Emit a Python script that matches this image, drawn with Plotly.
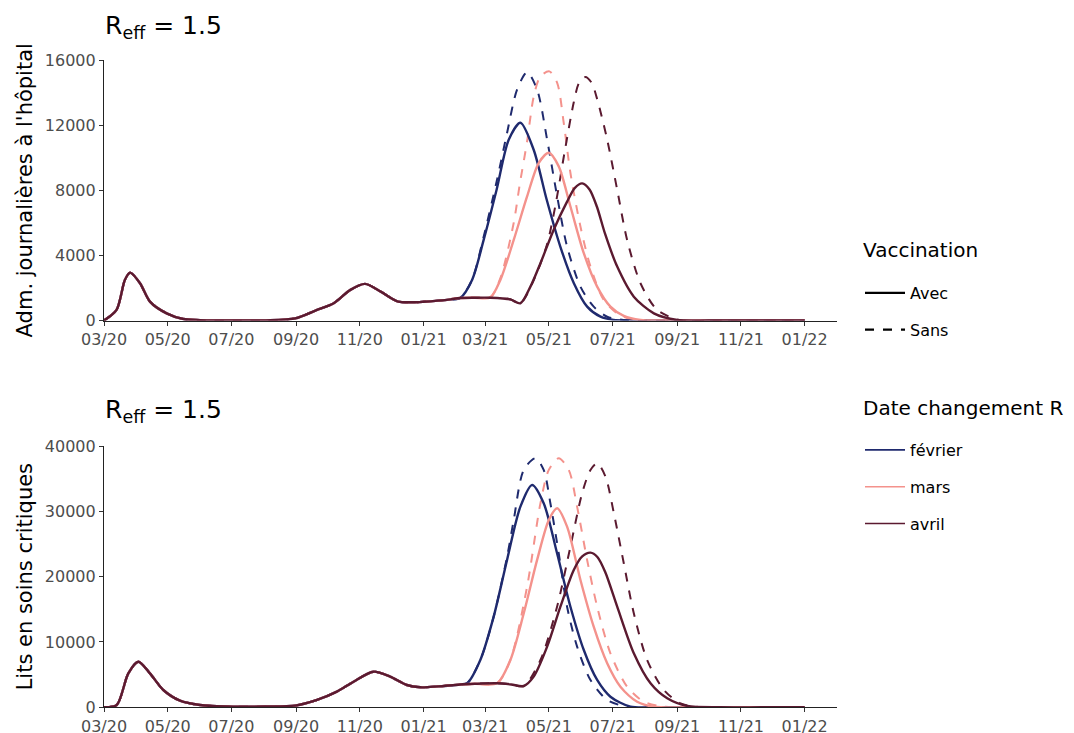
import pandas as pd
import plotly.graph_objects as go

# ---------------- data (days since 2020-03-01) ----------------
START = "2020-03-01"

tick_dates = ["2020-03-01", "2020-05-01", "2020-07-01", "2020-09-01", "2020-11-01", "2021-01-01",
              "2021-03-01", "2021-05-01", "2021-07-01", "2021-09-01", "2021-11-01", "2022-01-01"]
tick_labels = ["03/20", "05/20", "07/20", "09/20", "11/20", "01/21",
               "03/21", "05/21", "07/21", "09/21", "11/21", "01/22"]

scenarios = ["février", "mars", "avril"]
vaccination = ["Avec", "Sans"]

# --- Top panel: admissions journalières à l'hôpital ---
adm_common_days = [0, 12, 20, 25, 34.5, 44, 60, 76, 92, 124, 155, 183, 204, 220, 236, 250, 265, 281, 295, 306, 320, 332, 341]
adm_common_vals = [0, 650, 2490, 2940, 2290, 1160, 440, 90, 20, 5, 10, 130, 650, 1060, 1880, 2250, 1770, 1180, 1120, 1150, 1220, 1300, 1380]

adm_fev_avec_days = [352.5, 363.6, 376, 387.6, 398.8, 411.5, 424, 437, 450, 462.7, 475.5, 488, 505, 550, 620, 671]
adm_fev_avec_vals = [2490, 4950, 8030, 11100, 12150, 10490, 7415, 4540, 2290, 850, 234, 40, 5, 0, 0, 0]
adm_fev_sans_days = [352.5, 363.6, 376.4, 386, 395.6, 405.2, 414.8, 424.4, 434, 443.5, 456.3, 469, 481.9, 501, 530, 620, 671]
adm_fev_sans_vals = [2490, 5150, 8640, 11520, 14180, 15250, 14180, 11100, 7620, 4540, 2080, 850, 230, 10, 0, 0, 0]

adm_mar_avec_days = [355, 370, 379.6, 392.4, 405.2, 416.3, 426, 435.5, 446.7, 459.5, 472.3, 485, 497.8, 513.8, 540, 620, 671]
adm_mar_avec_vals = [1400, 1420, 2490, 4950, 7620, 9670, 10300, 9465, 7000, 4135, 2080, 850, 280, 30, 0, 0, 0]
adm_mar_sans_days = [355, 370, 379.6, 392.4, 398, 405.2, 411.6, 418, 426.6, 434, 440.3, 446.7, 456.3, 465.9, 478.6, 491.5, 507.4, 540, 620, 671]
adm_mar_sans_vals = [1400, 1420, 2600, 6000, 8300, 11000, 13770, 15000, 15300, 14600, 12135, 9060, 5770, 3310, 1260, 440, 20, 0, 0, 0]

adm_avr_avec_days = [355, 370, 389, 398.8, 408.4, 418, 430.7, 443.5, 451, 458, 465, 472, 480, 491.5, 507.4, 526.6, 549, 580, 620, 671]
adm_avr_avec_vals = [1400, 1400, 1300, 1060, 2080, 3520, 5570, 7300, 8150, 8420, 8050, 7000, 5300, 3310, 1465, 440, 30, 0, 0, 0]
adm_avr_sans_days = [355, 370, 389, 398.8, 411.6, 424.4, 433, 441, 449.9, 455, 461, 467, 472.3, 481.9, 491.5, 501, 513.8, 529.8, 552, 580, 620, 671]
adm_avr_sans_vals = [1400, 1400, 1300, 1060, 2490, 4700, 7300, 10300, 13400, 14600, 14950, 14600, 13600, 11110, 8030, 4950, 2290, 650, 20, 0, 0, 0]

# --- Bottom panel: lits en soins critiques ---
lit_common_days = [0, 12.2, 23.3, 32.9, 44, 56.8, 72.8, 92, 123.7, 155, 183, 204, 223, 239, 258, 274, 290, 303, 320, 341]
lit_common_vals = [0, 350, 5200, 6980, 5200, 2650, 1010, 350, 100, 120, 250, 1120, 2390, 3920, 5450, 4690, 3415, 3060, 3200, 3500]

lit_fev_avec_days = [347.7, 360.4, 373.2, 386, 398.8, 410, 421.1, 433.9, 446.7, 459.5, 472.3, 485, 504.2, 530, 600, 671]
lit_fev_avec_vals = [3675, 7240, 13880, 22560, 30720, 34040, 31240, 23580, 15400, 8770, 4180, 1620, 90, 0, 0, 0]
lit_fev_sans_days = [347.7, 360.4, 373.2, 386, 392.4, 402, 413.3, 421.1, 427.5, 435.5, 443.5, 453.1, 465.9, 481.9, 501, 530, 600, 671]
lit_fev_sans_vals = [3675, 7240, 13880, 23000, 28680, 36340, 38130, 36340, 31240, 23580, 15400, 9280, 4180, 1120, 100, 0, 0, 0]

lit_mar_avec_days = [355, 376.4, 389.2, 402, 414.8, 426, 434, 443.5, 456.3, 469, 481.9, 494.6, 510.6, 526.6, 560, 620, 671]
lit_mar_avec_vals = [3600, 3675, 7240, 14390, 22560, 28680, 30470, 27660, 19490, 12340, 6740, 3150, 860, 100, 0, 0, 0]
lit_mar_sans_days = [355, 376.4, 389.2, 405.2, 418, 426, 435.5, 445.1, 453.1, 462.7, 472.3, 485, 501, 517, 536.2, 570, 620, 671]
lit_mar_sans_vals = [3600, 3675, 7240, 18470, 31240, 36340, 38130, 36340, 30720, 22560, 15400, 8270, 3150, 860, 100, 0, 0, 0]

lit_avr_avec_days = [355, 376.4, 390, 402, 411.5, 424.4, 437.1, 449.9, 458, 465.9, 472.5, 480, 491.5, 507.4, 523.4, 539.4, 558.6, 590, 630, 671]
lit_avr_avec_vals = [3600, 3675, 3500, 3260, 4690, 9280, 15400, 21030, 23100, 23680, 23000, 20700, 15400, 8270, 3675, 1380, 200, 0, 0, 0]
lit_avr_sans_days = [355, 376.4, 390, 402, 418, 433.9, 446.7, 457.9, 465.9, 472.3, 480.3, 488.3, 497.8, 507.4, 520.2, 536.2, 552.2, 571.3, 620, 671]
lit_avr_sans_vals = [3600, 3675, 3500, 3260, 7240, 15400, 24600, 32770, 36340, 37370, 35310, 29710, 22050, 14390, 7240, 2650, 610, 0, 0, 0]

# ---------------- styling ----------------
colors = {"février": "#1f2a6e", "mars": "#f4928c", "avril": "#5b1a30"}
dashes = {"Avec": "solid", "Sans": "dash"}
FONT = "DejaVu Sans"

start = pd.Timestamp(START)


def to_dates(days):
    return start + pd.to_timedelta(days, unit="D")


panels = {
    "adm": (adm_common_days, adm_common_vals, {
        ("février", "Avec"): (adm_fev_avec_days, adm_fev_avec_vals),
        ("février", "Sans"): (adm_fev_sans_days, adm_fev_sans_vals),
        ("mars", "Avec"): (adm_mar_avec_days, adm_mar_avec_vals),
        ("mars", "Sans"): (adm_mar_sans_days, adm_mar_sans_vals),
        ("avril", "Avec"): (adm_avr_avec_days, adm_avr_avec_vals),
        ("avril", "Sans"): (adm_avr_sans_days, adm_avr_sans_vals),
    }),
    "lit": (lit_common_days, lit_common_vals, {
        ("février", "Avec"): (lit_fev_avec_days, lit_fev_avec_vals),
        ("février", "Sans"): (lit_fev_sans_days, lit_fev_sans_vals),
        ("mars", "Avec"): (lit_mar_avec_days, lit_mar_avec_vals),
        ("mars", "Sans"): (lit_mar_sans_days, lit_mar_sans_vals),
        ("avril", "Avec"): (lit_avr_avec_days, lit_avr_avec_vals),
        ("avril", "Sans"): (lit_avr_sans_days, lit_avr_sans_vals),
    }),
}

fig = go.Figure()
order = [("février", "Sans"), ("mars", "Sans"), ("avril", "Sans"),
         ("février", "Avec"), ("mars", "Avec"), ("avril", "Avec")]

for axis_idx, key in [("", "adm"), ("2", "lit")]:
    cdays, cvals, series = panels[key]
    for sc, vac in order:
        d, v = series[(sc, vac)]
        fig.add_trace(go.Scatter(
            x=to_dates(list(cdays) + list(d)), y=list(cvals) + list(v),
            mode="lines", showlegend=False,
            line=dict(color=colors[sc], dash=dashes[vac], width=2.4 if vac == "Avec" else 2.0,
                      shape="spline", smoothing=0.8),
            xaxis="x" + axis_idx, yaxis="y" + axis_idx, hoverinfo="skip"))

# legend-only entries
for vac in vaccination:
    fig.add_trace(go.Scatter(x=[None], y=[None], mode="lines", name=vac, legend="legend",
                             legendgroup="v" + vac,
                             line=dict(color="black", dash=dashes[vac], width=2.3)))
for sc in scenarios:
    fig.add_trace(go.Scatter(x=[None], y=[None], mode="lines", name=sc, legend="legend2",
                             legendgroup="s" + sc,
                             line=dict(color=colors[sc], width=1.6)))

# page body has an 8px margin: figure coordinates = page pixels - 8
OFF = 8
W, H = 1074 - 2 * OFF, 733 - OFF


def px(x):
    return (x - OFF) / W


def py(y):
    return 1 - (y - OFF) / H


xdom = [px(104), px(837)]
xrange_ = [start, pd.Timestamp("2022-02-01")]

common_x = dict(range=xrange_, tickvals=pd.to_datetime(tick_dates), ticktext=tick_labels,
                showline=True, linecolor="#222", linewidth=1.2, ticks="outside", ticklen=4,
                tickcolor="#333", tickwidth=1, showgrid=False, zeroline=False, automargin=False,
                tickfont=dict(family=FONT, size=16, color="#4d4d4d"), domain=xdom)
common_y = dict(showline=True, linecolor="#222", linewidth=1.2, ticks="outside", ticklen=4,
                tickcolor="#333", tickwidth=1, showgrid=False, zeroline=False, tickformat="d",
                automargin=False, tickfont=dict(family=FONT, size=16, color="#4d4d4d"))

legend_common = dict(xanchor="left", yanchor="top", itemwidth=40,
                     font=dict(family=FONT, size=16, color="black"), tracegroupgap=13,
                     bgcolor="rgba(0,0,0,0)")

fig.update_layout(
    width=W, height=H, margin=dict(l=0, r=0, t=0, b=0, autoexpand=False),
    paper_bgcolor="white", plot_bgcolor="white",
    font=dict(family=FONT, color="black"),
    xaxis=dict(anchor="y", **common_x),
    xaxis2=dict(anchor="y2", **common_x),
    yaxis=dict(anchor="x", domain=[py(320.5), py(60)], range=[0, 16000],
               tickvals=[0, 4000, 8000, 12000, 16000],
               title=dict(text="Adm. journalières à l'hôpital", font=dict(family=FONT, size=21, color="black"),
                          standoff=6),
               **common_y),
    yaxis2=dict(anchor="x2", domain=[py(707.3), py(446)], range=[0, 40000],
                tickvals=[0, 10000, 20000, 30000, 40000],
                title=dict(text="Lits en soins critiques", font=dict(family=FONT, size=21, color="black"),
                           standoff=6),
                **common_y),
    legend=dict(x=px(860), y=py(276), **legend_common),
    legend2=dict(x=px(860), y=py(433), **legend_common),
    annotations=[
        dict(text="R<sub>eff</sub> = 1.5", x=px(103), y=py(27), xref="paper", yref="paper",
             xanchor="left", yanchor="middle", showarrow=False,
             font=dict(family=FONT, size=25, color="black")),
        dict(text="R<sub>eff</sub> = 1.5", x=px(103), y=py(411), xref="paper", yref="paper",
             xanchor="left", yanchor="middle", showarrow=False,
             font=dict(family=FONT, size=25, color="black")),
        dict(text="Vaccination", x=px(861), y=py(250), xref="paper", yref="paper",
             xanchor="left", yanchor="middle", showarrow=False,
             font=dict(family=FONT, size=20, color="black")),
        dict(text="Date changement R", x=px(861), y=py(408), xref="paper", yref="paper",
             xanchor="left", yanchor="middle", showarrow=False,
             font=dict(family=FONT, size=20, color="black")),
    ],
)

fig.write_html("out.html")
